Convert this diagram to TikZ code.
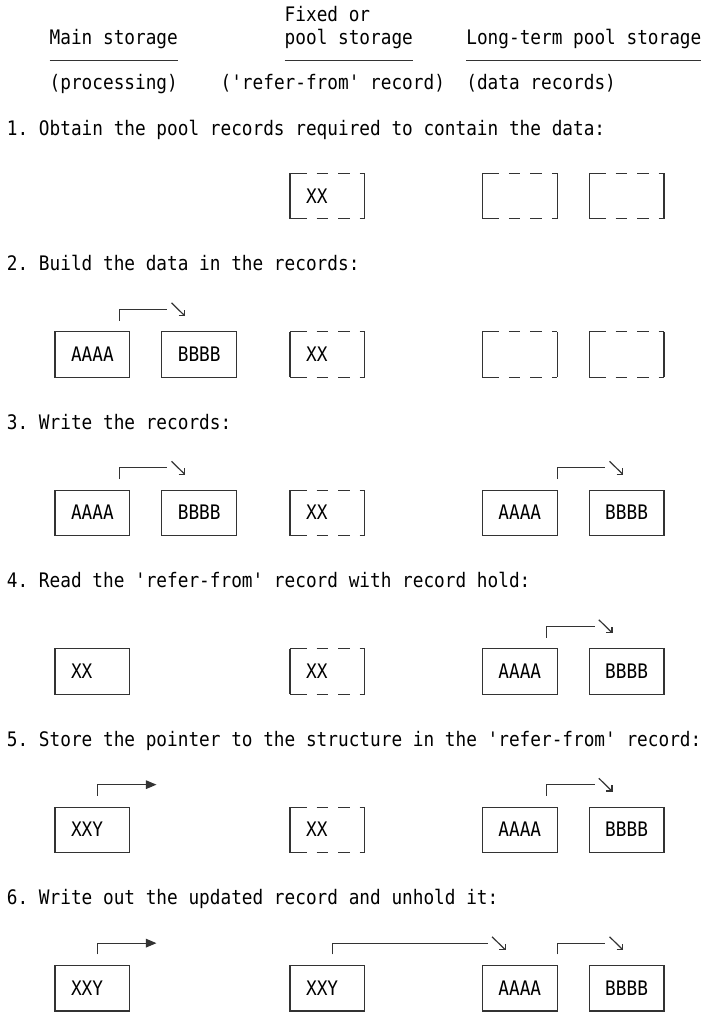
\documentclass[tikz,border=0pt]{standalone}
\usepackage{fontspec}
\setmonofont{DejaVu Sans Mono}[FakeStretch=0.8873]
\usetikzlibrary{arrows.meta}
\tikzset{
  ln/.style={line width=1.2pt, draw=black!80},
  txt/.style={anchor=base west, inner sep=0pt, outer sep=0pt, yshift=-7pt,
    font=\ttfamily\fontsize{20}{22}\selectfont, text=black},
  recshape/.style={rectangle, minimum width=74.79pt, minimum height=45.28pt,
    inner sep=0pt, outer sep=0pt},
  rec/.style={recshape, ln},
}
% solid record box: name, column of left line, top row
\newcommand\recbox[3]{\node[rec] (#1) at (#2+4,#3+1) {};}
% dashed (character style) record box
\newcommand\dshbox[3]{%
  \node[recshape] (#1) at (#2+4,#3+1) {};
  \draw[ln] (#1.north west) -- (#1.south west) (#1.north east) -- (#1.south east);
  \foreach \p/\q in {0/16.5,26.5/38,48/59.5,69.5/74.79}{%
    \draw[ln] ([xshift=\p pt]#1.north west) -- ([xshift=\q pt]#1.north west)
              ([xshift=\p pt]#1.south west) -- ([xshift=\q pt]#1.south west);}}
% text in a cell: name, column, row, text
\newcommand\tx[4]{\node[txt] (#1) at (#2,#3) {#4};}
% pointer with diagonal arrow: name, stub column, end column, row
\newcommand\ptr[4]{%
  \coordinate (#1s) at (#2+0.5,#4+0.5);
  \coordinate (#1c) at (#2+0.5,#4);
  \coordinate (#1e) at (#3,#4);
  \draw[ln] (#1s) -- (#1c) -- (#1e);
  \coordinate (#1a) at ([xshift=4.3pt,yshift=6.4pt]#1e);
  \coordinate (#1b) at ([xshift=17.4pt,yshift=-6.4pt]#1e);
  \draw[ln] (#1a) -- (#1b);
  \draw[ln] ([xshift=-6pt]#1b) -- (#1b) -- ([yshift=6pt]#1b);}
% pointer with filled arrow head: name, stub column, tip column, row
\newcommand\fptr[4]{%
  \coordinate (#1s) at (#2+0.5,#4+0.5);
  \coordinate (#1c) at (#2+0.5,#4);
  \coordinate (#1e) at (#3,#4);
  \draw[ln,-{Triangle[length=10.5pt,width=8.5pt]}] (#1s) -- (#1c) -- (#1e);}
\begin{document}
\begin{tikzpicture}[x=10.684pt,y=-22.64pt]
\useasboundingbox (0pt,0pt) rectangle (710pt,-1013pt);
\begin{scope}[shift={(6.92pt,-14.9pt)}]
% header
\tx{hfix}{26}{0}{Fixed or}
\tx{hmain}{4}{1}{Main storage}
\tx{hpool}{26}{1}{pool storage}
\tx{hlong}{43}{1}{Long-term pool storage}
\draw[ln] (4,2) -- (16,2);
\draw[ln] (26,2) -- (38,2);
\draw[ln] (43,2) -- (65,2);
\tx{hproc}{4}{3}{(processing)}
\tx{hrefer}{20}{3}{('refer-from' record)}
\tx{hdata}{43}{3}{(data records)}
% step 1
\tx{s1}{0}{5}{1. Obtain the pool records required to contain the data:}
\dshbox{f1}{26}{7}\tx{f1t}{28}{8}{XX}
\dshbox{l1a}{44}{7}
\dshbox{l1b}{54}{7}
% step 2
\tx{s2}{0}{11}{2. Build the data in the records:}
\recbox{m2a}{4}{14}\tx{m2at}{6}{15}{AAAA}
\recbox{m2b}{14}{14}\tx{m2bt}{16}{15}{BBBB}
\dshbox{f2}{26}{14}\tx{f2t}{28}{15}{XX}
\dshbox{l2a}{44}{14}
\dshbox{l2b}{54}{14}
\ptr{p2}{10}{15}{13}
% step 3
\tx{s3}{0}{18}{3. Write the records:}
\recbox{m3a}{4}{21}\tx{m3at}{6}{22}{AAAA}
\recbox{m3b}{14}{21}\tx{m3bt}{16}{22}{BBBB}
\dshbox{f3}{26}{21}\tx{f3t}{28}{22}{XX}
\recbox{l3a}{44}{21}\tx{l3at}{46}{22}{AAAA}
\recbox{l3b}{54}{21}\tx{l3bt}{56}{22}{BBBB}
\ptr{p3m}{10}{15}{20}
\ptr{p3l}{51}{56}{20}
% step 4
\tx{s4}{0}{25}{4. Read the 'refer-from' record with record hold:}
\recbox{m4}{4}{28}\tx{m4t}{6}{29}{XX}
\dshbox{f4}{26}{28}\tx{f4t}{28}{29}{XX}
\recbox{l4a}{44}{28}\tx{l4at}{46}{29}{AAAA}
\recbox{l4b}{54}{28}\tx{l4bt}{56}{29}{BBBB}
\ptr{p4l}{50}{55}{27}
% step 5
\tx{s5}{0}{32}{5. Store the pointer to the structure in the 'refer-from' record:}
\recbox{m5}{4}{35}\tx{m5t}{6}{36}{XXY}
\dshbox{f5}{26}{35}\tx{f5t}{28}{36}{XX}
\recbox{l5a}{44}{35}\tx{l5at}{46}{36}{AAAA}
\recbox{l5b}{54}{35}\tx{l5bt}{56}{36}{BBBB}
\fptr{p5m}{8}{14}{34}
\ptr{p5l}{50}{55}{34}
% step 6
\tx{s6}{0}{39}{6. Write out the updated record and unhold it:}
\recbox{m6}{4}{42}\tx{m6t}{6}{43}{XXY}
\recbox{f6}{26}{42}\tx{f6t}{28}{43}{XXY}
\recbox{l6a}{44}{42}\tx{l6at}{46}{43}{AAAA}
\recbox{l6b}{54}{42}\tx{l6bt}{56}{43}{BBBB}
\fptr{p6m}{8}{14}{41}
\ptr{p6f}{30}{45}{41}
\ptr{p6l}{51}{56}{41}
\end{scope}
\end{tikzpicture}
\end{document}
